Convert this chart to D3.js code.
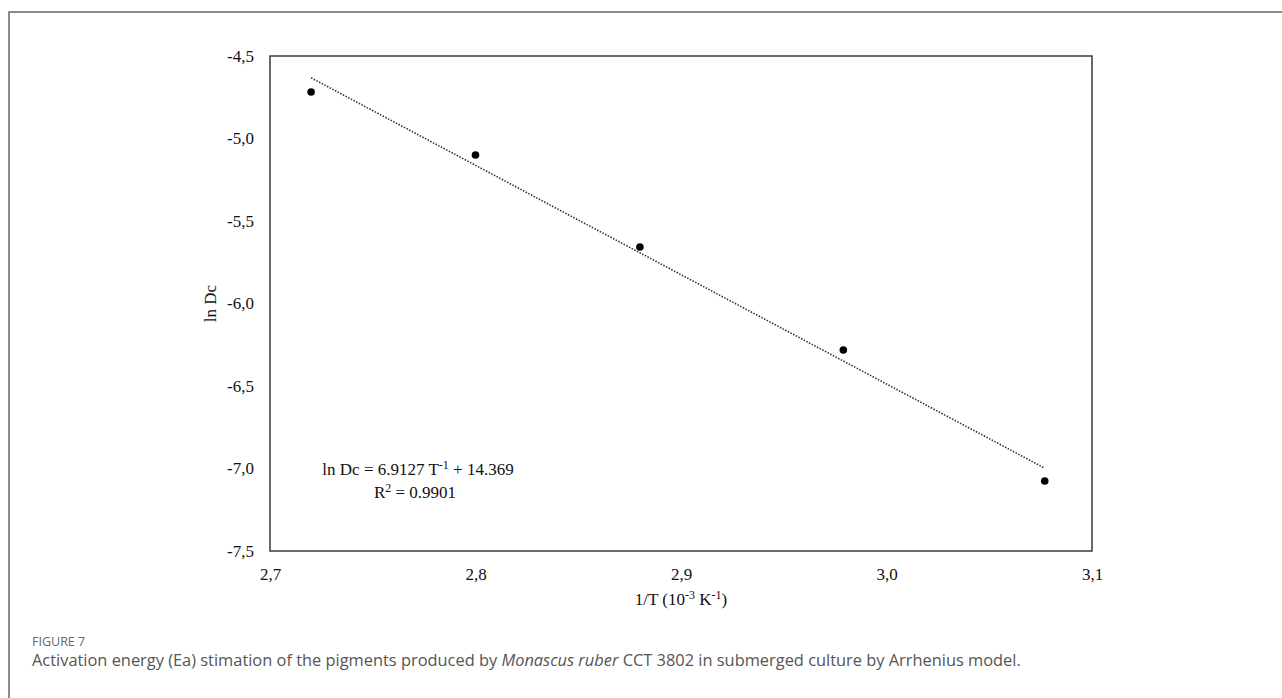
<!DOCTYPE html>
<html>
<head>
<meta charset="utf-8">
<script src="https://cdn.jsdelivr.net/npm/d3@7"></script>
<style>
  body { margin: 0; background: #fff; }
  svg { display: block; }
</style>
</head>
<body>
<div id="chart"></div>
<script>
// data (1/T in 10^-3 K^-1, ln Dc)
let invT = [2.72, 2.80, 2.88, 2.979, 3.077];
let lnDc = [-4.718, -5.10, -5.658, -6.282, -7.076];

let xTicks = [2.7, 2.8, 2.9, 3.0, 3.1];
let yTicks = [-4.5, -5.0, -5.5, -6.0, -6.5, -7.0, -7.5];

let width = 1282,
    height = 698;

let plot = { left: 270, top: 56, right: 1092, bottom: 551 };

let svg = d3.select("#chart").append("svg")
    .attr("width", width)
    .attr("height", height);

// outer figure frame
svg.append("rect")
    .attr("x", 9)
    .attr("y", 12)
    .attr("width", width)
    .attr("height", height)
    .attr("fill", "none")
    .attr("stroke", "#666")
    .attr("stroke-width", 1.5);

let xScale = d3.scaleLinear()
    .domain([2.7, 3.1])
    .range([plot.left, plot.right]);

let yScale = d3.scaleLinear()
    .domain([-7.5, -4.5])
    .range([plot.bottom, plot.top]);

// comma decimals and a plain hyphen for the minus
let fmt = function(d) { return d3.format(".1f")(d).replace(".", ",").replace("\u2212", "-"); };

let serif = "'Liberation Serif', 'Times New Roman', serif";

// axes with just labels, no tick lines
let xAxis = svg.append("g")
    .attr("transform", "translate(0," + plot.bottom + ")")
    .call(d3.axisBottom(xScale).tickValues(xTicks).tickFormat(fmt).tickSize(0).tickPadding(17));
xAxis.attr("font-family", null).attr("font-size", null);
xAxis.select(".domain").remove();
xAxis.selectAll("text")
    .style("font-family", serif)
    .style("font-size", "17px")
    .attr("fill", "#111");

let yAxis = svg.append("g")
    .attr("transform", "translate(" + plot.left + ",0)")
    .call(d3.axisLeft(yScale).tickValues(yTicks).tickFormat(fmt).tickSize(0).tickPadding(16));
yAxis.attr("font-family", null).attr("font-size", null);
yAxis.select(".domain").remove();
yAxis.selectAll("text")
    .style("font-family", serif)
    .style("font-size", "17px")
    .attr("fill", "#111");

// plot box
svg.append("rect")
    .attr("x", plot.left)
    .attr("y", plot.top)
    .attr("width", plot.right - plot.left)
    .attr("height", plot.bottom - plot.top)
    .attr("fill", "none")
    .attr("stroke", "#3a3a3a")
    .attr("stroke-width", 1.5);

// least squares trend line through the points
let mx = d3.mean(invT), my = d3.mean(lnDc);
let sxy = d3.sum(invT, function(x, i) { return (x - mx) * (lnDc[i] - my); });
let sxx = d3.sum(invT, function(x) { return (x - mx) * (x - mx); });
let slope = sxy / sxx, icpt = my - slope * mx;
let xEnds = d3.extent(invT);

svg.append("line")
    .attr("x1", xScale(xEnds[0]))
    .attr("y1", yScale(slope * xEnds[0] + icpt))
    .attr("x2", xScale(xEnds[1]))
    .attr("y2", yScale(slope * xEnds[1] + icpt))
    .attr("stroke", "#333")
    .attr("stroke-width", 1.6)
    .attr("stroke-dasharray", "1.5,1.5");

let points = invT.map(function(x, i) { return { x: x, y: lnDc[i] }; });

svg.selectAll(".dot")
    .data(points)
    .enter().append("circle")
    .attr("class", "dot")
    .attr("cx", function(d) { return xScale(d.x); })
    .attr("cy", function(d) { return yScale(d.y); })
    .attr("r", 3.8)
    .attr("fill", "#000");

// equation
let eq = svg.append("text")
    .attr("x", 418)
    .attr("y", 475)
    .attr("text-anchor", "middle")
    .attr("font-family", serif)
    .attr("font-size", 17)
    .attr("fill", "#111");
eq.append("tspan").text("ln Dc = 6.9127 T");
eq.append("tspan").attr("dy", -6).attr("font-size", 12).text("-1");
eq.append("tspan").attr("dy", 6).text(" + 14.369");

let r2 = svg.append("text")
    .attr("x", 415)
    .attr("y", 498)
    .attr("text-anchor", "middle")
    .attr("font-family", serif)
    .attr("font-size", 17)
    .attr("fill", "#111");
r2.append("tspan").text("R");
r2.append("tspan").attr("dy", -6).attr("font-size", 12).text("2");
r2.append("tspan").attr("dy", 6).text(" = 0.9901");

// axis titles
let xt = svg.append("text")
    .attr("x", (plot.left + plot.right) / 2)
    .attr("y", 605)
    .attr("text-anchor", "middle")
    .attr("font-family", serif)
    .attr("font-size", 17)
    .attr("fill", "#111");
xt.append("tspan").text("1/T (10");
xt.append("tspan").attr("dy", -6).attr("font-size", 12).text("-3");
xt.append("tspan").attr("dy", 6).text(" K");
xt.append("tspan").attr("dy", -6).attr("font-size", 12).text("-1");
xt.append("tspan").attr("dy", 6).text(")");

svg.append("text")
    .attr("transform", "translate(216," + (plot.top + plot.bottom) / 2 + ") rotate(-90)")
    .attr("text-anchor", "middle")
    .attr("font-family", serif)
    .attr("font-size", 17)
    .attr("fill", "#111")
    .text("ln Dc");

// caption
let sans = "'Open Sans', 'Noto Sans', sans-serif";
svg.append("text")
    .attr("x", 32)
    .attr("y", 646)
    .attr("font-family", sans)
    .attr("font-size", 12.5)
    .attr("fill", "#666")
    .text("FIGURE 7");

let cap = svg.append("text")
    .attr("x", 32)
    .attr("y", 666)
    .attr("font-family", sans)
    .attr("font-size", 16.4)
    .attr("fill", "#555");
cap.append("tspan").text("Activation energy (Ea) stimation of the pigments produced by ");
cap.append("tspan").attr("font-style", "italic").text("Monascus ruber");
cap.append("tspan").text(" CCT 3802 in submerged culture by Arrhenius model.");
</script>
</body>
</html>
